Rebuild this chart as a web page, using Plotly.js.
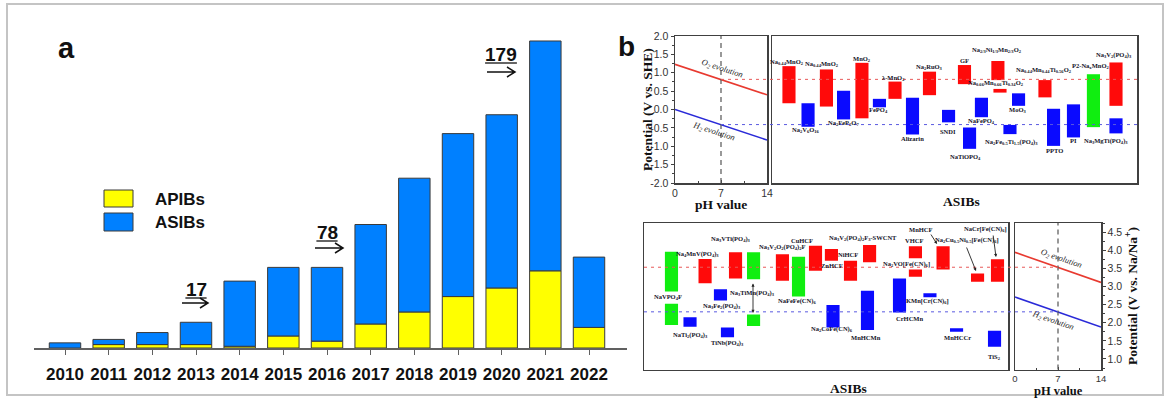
<!DOCTYPE html>
<html><head><meta charset="utf-8">
<script src="https://cdn.plot.ly/plotly-3.0.1.min.js"></script>
<style>html,body{margin:0;padding:0;background:#fff}#chart{width:1168px;height:399px}</style>
</head><body><div id="chart"></div>
<script>
// ---------- DATA ----------
// panel a: publications per year
const years = ['2010','2011','2012','2013','2014','2015','2016','2017','2018','2019','2020','2021','2022'];
const apibs = [0, 2, 2, 2, 1, 7, 4, 14, 21, 30, 35, 45, 12];
const asibs = [3, 3, 7, 13, 38, 40, 43, 58, 78, 95, 101, 134, 41];
const growthNotes = ['17', '78', '179'];

// panel b: water stability window vs pH
const phX = [0, 14];
const o2SHE = [1.23, 0.40];
const h2SHE = [0.00, -0.83];
const o2Na = [3.94, 3.11];
const h2Na = [2.71, 1.88];
const o2AtPh7SHE = 0.82, h2AtPh7SHE = -0.41;
const o2AtPh7Na = 3.53, h2AtPh7Na = 2.30;

// panel b top: electrode potential ranges (V vs. SHE); type c=cathode, a=anode, s=symmetric
const topNames = ['Na<sub>0.44</sub>MnO<sub>2</sub>','Na<sub>2</sub>V<sub>6</sub>O<sub>16</sub>','Na<sub>0.44</sub>MnO<sub>2</sub>','Na<sub>2</sub>FeP<sub>2</sub>O<sub>7</sub>','MnO<sub>2</sub>','FePO<sub>4</sub>','λ-MnO<sub>2</sub>','Alizarin','Na<sub>2</sub>RuO<sub>3</sub>','SNDI','GF','NaTiOPO<sub>4</sub>','NaFePO<sub>4</sub>','Na<sub>2/3</sub>Ni<sub>1/3</sub>Mn<sub>2/3</sub>O<sub>2</sub>','Na<sub>0.66</sub>Mn<sub>0.66</sub>Ti<sub>0.34</sub>O<sub>2</sub>','Na<sub>2</sub>Fe<sub>0.5</sub>Ti<sub>1.5</sub>(PO<sub>4</sub>)<sub>3</sub>','MoO<sub>3</sub>','Na<sub>0.44</sub>Mn<sub>0.44</sub>Ti<sub>0.56</sub>O<sub>2</sub>','PPTO','PI','P2-Na<sub>x</sub>MnO<sub>2</sub>','Na<sub>3</sub>V<sub>2</sub>(PO<sub>4</sub>)<sub>3</sub>','Na<sub>3</sub>MgTi(PO<sub>4</sub>)<sub>3</sub>'];
const topSlot = [0.97,2.06,3.11,4.09,5.14,6.14,7.03,8.03,9.0,10.09,11.0,11.29,11.97,12.91,13.03,13.6,14.09,15.6,16.09,17.23,18.37,19.66,19.66];
const topLo = [0.17,-0.47,0.08,-0.27,-0.24,0.06,0.29,-0.68,0.39,-0.35,0.69,-1.07,-0.21,0.80,0.46,-0.67,0.10,0.33,-0.99,-0.76,-0.48,0.10,-0.65];
const topHi = [1.18,0.17,1.09,0.51,1.27,0.29,0.76,0.32,1.03,-0.01,1.21,-0.49,0.32,1.32,0.56,-0.42,0.44,0.80,0.02,0.14,0.96,1.28,-0.24];
const topType = ['c','a','c','a','c','a','c','a','c','a','c','a','a','c','c','a','a','c','a','a','s','c','a'];

// panel b bottom: electrode potential ranges (V vs. Na/Na+)
const botSlot = [1.57,1.57,2.63,3.49,4.37,4.77,5.23,6.26,6.26,7.91,8.83,9.8,10.71,11.8,10.8,12.89,12.77,15.51,15.51,14.6,16.34,17.09,17.86,19.06,20.2,20.03];
const botLo = [2.86,1.94,1.89,3.09,2.61,1.60,3.22,3.20,1.91,3.16,2.72,3.43,3.71,3.16,1.87,3.67,1.80,3.78,3.27,2.28,2.70,3.47,1.75,3.13,3.13,1.34];
const botHi = [3.96,2.52,2.15,3.76,2.92,1.87,3.94,3.94,2.23,3.89,3.82,4.12,4.03,3.71,2.49,4.14,2.88,4.11,3.47,3.22,2.81,4.11,1.85,3.36,3.75,1.78];
const botType = ['s','s','a','c','a','a','c','s','s','c','s','c','c','c','a','c','a','c','c','a','a','c','a','c','c','a'];

const shePhTicks = [-2,-1.5,-1,-0.5,0,0.5,1,1.5,2];
const naPhTicks = [1,1.5,2,2.5,3,3.5,4,4.5];
const phTicks = [0,7,14];

// ---------- LAYOUT HELPERS ----------
const W = 1168, H = 399;
const px = x => x / W, py = y => 1 - y / H;
const colMap = {c:'#ff0a0a', a:'#0a0aff', s:'#10ee10'};
const SERIF = 'Liberation Serif, Times New Roman, serif';
const SANS = 'Liberation Sans, Arial, sans-serif';
const fmt = v => (v < 0 ? '-' : '') + Math.abs(v).toFixed(1);

const dA = {x:[px(34), px(627)], y:[py(348), py(20)]};
const d2 = {x:[px(675), px(767)], y:[py(183), py(36)]};
const d3 = {x:[px(772), px(1137)], y:[py(183), py(36)]};
const d4 = {x:[px(644), px(1008)], y:[py(369.5), py(223)]};
const d5 = {x:[px(1015), px(1101)], y:[py(369.5), py(223)]};
const naRange = [0.71, 4.75];

const traces = [];
traces.push({type:'bar', x:years, y:apibs, name:'APIBs', width:0.72, xaxis:'x', yaxis:'y',
  marker:{color:'#ffff00', line:{color:'#3a3a3a', width:1}}, hoverinfo:'skip'});
traces.push({type:'bar', x:years, y:asibs, base:apibs, name:'ASIBs', width:0.72, xaxis:'x', yaxis:'y',
  marker:{color:'#0080ff', line:{color:'#3a3a3a', width:1}}, hoverinfo:'skip'});

const lineRed = '#e83a30', lineBlue = '#2a2ad8';
traces.push({type:'scatter', mode:'lines', x:phX, y:o2SHE, xaxis:'x2', yaxis:'y2', line:{color:lineRed, width:1.6}, hoverinfo:'skip'});
traces.push({type:'scatter', mode:'lines', x:phX, y:h2SHE, xaxis:'x2', yaxis:'y2', line:{color:lineBlue, width:1.6}, hoverinfo:'skip'});
traces.push({type:'scatter', mode:'lines', x:phX, y:o2Na, xaxis:'x5', yaxis:'y5', line:{color:lineRed, width:1.6}, hoverinfo:'skip'});
traces.push({type:'scatter', mode:'lines', x:phX, y:h2Na, xaxis:'x5', yaxis:'y5', line:{color:lineBlue, width:1.6}, hoverinfo:'skip'});

traces.push({type:'bar', x:topSlot, y:topHi.map((h,i)=>h-topLo[i]), base:topLo, width:0.75, xaxis:'x3', yaxis:'y3',
  marker:{color:topType.map(t=>colMap[t]), line:{width:0}}, hoverinfo:'skip'});
traces.push({type:'bar', x:botSlot, y:botHi.map((h,i)=>h-botLo[i]), base:botLo, width:0.75, xaxis:'x4', yaxis:'y4',
  marker:{color:botType.map(t=>colMap[t]), line:{width:0}}, hoverinfo:'skip'});

const boxLine = {showline:true, mirror:true, linecolor:'#404040', linewidth:1.5, showgrid:false, zeroline:false};
const tickFont = {family:SANS, size:10.5, color:'#333'};

const layout = {
  width:W, height:H, margin:{l:0,r:0,t:0,b:0}, paper_bgcolor:'#fff', plot_bgcolor:'rgba(0,0,0,0)',
  showlegend:false, barmode:'overlay',
  xaxis:{domain:dA.x, anchor:'y', type:'category', range:[-0.71, 12.87], showline:true, linecolor:'#606060', linewidth:1.5,
    ticks:'outside', ticklen:5, tickcolor:'#606060', ticklabelstandoff:5,
    tickfont:{family:SANS, size:17, color:'#111', weight:'bold'}, showgrid:false, zeroline:false, fixedrange:true},
  yaxis:{domain:dA.y, anchor:'x', range:[0, 191.24], visible:false, fixedrange:true},

  xaxis2:Object.assign({domain:d2.x, anchor:'y2', range:[0,14], tickmode:'array', tickvals:phTicks,
    ticks:'inside', ticklen:3, tickcolor:'#404040', tickfont:tickFont,
    minor:{tickmode:'linear', tick0:0, dtick:3.5, ticks:'inside', ticklen:2, tickcolor:'#404040'}}, boxLine),
  yaxis2:Object.assign({domain:d2.y, anchor:'x2', range:[-2,2], tickmode:'array', tickvals:shePhTicks, ticktext:shePhTicks.map(fmt),
    ticks:'outside', ticklen:3, tickcolor:'#404040', tickfont:tickFont,
    minor:{tickmode:'linear', tick0:0, dtick:0.25, ticks:'outside', ticklen:2, tickcolor:'#404040'}}, boxLine),

  xaxis3:Object.assign({domain:d3.x, anchor:'y3', range:[0, 20.86], showticklabels:false, ticks:''}, boxLine),
  yaxis3:Object.assign({domain:d3.y, anchor:'x3', range:[-2,2], showticklabels:false, ticks:''}, boxLine),

  xaxis4:Object.assign({domain:d4.x, anchor:'y4', range:[0, 20.8], showticklabels:false, ticks:''}, boxLine),
  yaxis4:Object.assign({domain:d4.y, anchor:'x4', range:naRange, showticklabels:false, ticks:''}, boxLine),

  xaxis5:Object.assign({domain:d5.x, anchor:'y5', range:[0,14], tickmode:'array', tickvals:phTicks,
    ticks:'inside', ticklen:3, tickcolor:'#404040', tickfont:{family:SANS, size:9.5, color:'#333'},
    minor:{tickmode:'linear', tick0:0, dtick:3.5, ticks:'inside', ticklen:2, tickcolor:'#404040'}}, boxLine),
  yaxis5:Object.assign({domain:d5.y, anchor:'x5', side:'right', range:naRange, tickmode:'array', tickvals:naPhTicks, ticktext:naPhTicks.map(fmt),
    ticks:'outside', ticklen:3, tickcolor:'#404040', tickfont:tickFont,
    minor:{tickmode:'linear', tick0:0, dtick:0.25, ticks:'outside', ticklen:2, tickcolor:'#404040'}}, boxLine),
  shapes:[], annotations:[]
};

const S = layout.shapes, A = layout.annotations;
// whole-figure frame
S.push({type:'rect', xref:'paper', yref:'paper', x0:px(7), x1:px(1163), y0:py(395), y1:py(4), line:{color:'#c4c4c4', width:2}});

// panel a legend
S.push({type:'rect', xref:'paper', yref:'paper', x0:px(104), x1:px(133), y0:py(207), y1:py(190), fillcolor:'#ffff00', line:{color:'#3a3a3a', width:1}});
S.push({type:'rect', xref:'paper', yref:'paper', x0:px(104), x1:px(133), y0:py(231), y1:py(213), fillcolor:'#0080ff', line:{color:'#3a3a3a', width:1}});
A.push({xref:'paper', yref:'paper', x:px(153), y:py(199), xanchor:'left', yanchor:'middle', showarrow:false, text:'APIBs', font:{family:SANS, size:17, color:'#111', weight:'bold'}});
A.push({xref:'paper', yref:'paper', x:px(153), y:py(222), xanchor:'left', yanchor:'middle', showarrow:false, text:'ASIBs', font:{family:SANS, size:17, color:'#111', weight:'bold'}});
A.push({xref:'paper', yref:'paper', x:px(66), y:py(48), showarrow:false, text:'a', font:{family:SANS, size:29, color:'#111', weight:'bold'}});
A.push({xref:'paper', yref:'paper', x:px(626), y:py(46), showarrow:false, text:'b', font:{family:SANS, size:28, color:'#111', weight:'bold'}});

// growth notes with arrows
const notePos = [{cx:196, ty:289, ax0:182, ax1:208, ay:303}, {cx:327, ty:232, ax0:315, ax1:343, ay:248}, {cx:501, ty:54, ax0:487, ax1:515, ay:72}];
growthNotes.forEach((t,i)=>{
  const p = notePos[i];
  A.push({xref:'paper', yref:'paper', x:px(p.cx), y:py(p.ty), showarrow:false, text:t, font:{family:SANS, size:19, color:'#111', weight:'bold'}});
  const hw = t.length * 5.3;
  S.push({type:'line', xref:'paper', yref:'paper', x0:px(p.cx-hw), x1:px(p.cx+hw), y0:py(p.ty+9), y1:py(p.ty+9), line:{color:'#111', width:1.3}});
  S.push({type:'path', xref:'paper', yref:'paper',
    path:`M ${px(p.ax0)},${py(p.ay)} L ${px(p.ax1)},${py(p.ay)} M ${px(p.ax1-8)},${py(p.ay-5)} L ${px(p.ax1)},${py(p.ay)} L ${px(p.ax1-8)},${py(p.ay+5)}`,
    line:{color:'#111', width:1.5}});
});

// pH 7 verticals
S.push({type:'line', xref:'x2', yref:'y2 domain', x0:7, x1:7, y0:0, y1:1, line:{color:'#555', width:1.2, dash:'5px,4px'}});
S.push({type:'line', xref:'x5', yref:'y5 domain', x0:7, x1:7, y0:0, y1:1, line:{color:'#555', width:1.2, dash:'5px,4px'}});
// reference dashed levels
const ph7top = d2.x[0] + 0.5*(d2.x[1]-d2.x[0]);
const ph7bot = d5.x[0] + 0.5*(d5.x[1]-d5.x[0]);
S.push({type:'line', xref:'paper', yref:'y2', x0:ph7top, x1:d3.x[1], y0:o2AtPh7SHE, y1:o2AtPh7SHE, line:{color:'#e85a5a', width:1, dash:'3px,4px'}});
S.push({type:'line', xref:'paper', yref:'y2', x0:ph7top, x1:d3.x[1], y0:h2AtPh7SHE, y1:h2AtPh7SHE, line:{color:'#5a5ae0', width:1, dash:'3px,4px'}});
S.push({type:'line', xref:'paper', yref:'y4', x0:d4.x[0], x1:ph7bot, y0:o2AtPh7Na, y1:o2AtPh7Na, line:{color:'#e85a5a', width:1, dash:'3px,4px'}});
S.push({type:'line', xref:'paper', yref:'y4', x0:d4.x[0], x1:ph7bot, y0:h2AtPh7Na, y1:h2AtPh7Na, line:{color:'#5a5ae0', width:1, dash:'3px,4px'}});

// axis titles
const titleFont = {family:SERIF, size:13.5, color:'#111', weight:'bold'};
A.push({xref:'paper', yref:'paper', x:px(647), y:py(110), textangle:-90, showarrow:false, text:'Potential (V vs. SHE)', font:titleFont});
A.push({xref:'paper', yref:'paper', x:px(1131), y:py(296), textangle:-90, showarrow:false, text:'Potential (V vs. Na/Na<sup>+</sup>)', font:titleFont});
A.push({xref:'paper', yref:'paper', x:px(721), y:py(204), showarrow:false, text:'pH value', font:titleFont});
A.push({xref:'paper', yref:'paper', x:px(1058), y:py(391), showarrow:false, text:'pH value', font:{family:SERIF, size:12.5, color:'#111', weight:'bold'}});
A.push({xref:'paper', yref:'paper', x:px(961), y:py(201), showarrow:false, text:'ASIBs', font:titleFont});
A.push({xref:'paper', yref:'paper', x:px(848), y:py(388), showarrow:false, text:'ASIBs', font:titleFont});

// evolution labels
const evoFont = {family:SERIF, size:8.5, color:'#222'};
A.push({xref:'paper', yref:'paper', x:px(722), y:py(68), textangle:18, showarrow:false, text:'<i>O<sub>2</sub> evolution</i>', font:evoFont});
A.push({xref:'paper', yref:'paper', x:px(714), y:py(131), textangle:18, showarrow:false, text:'<i>H<sub>2</sub> evolution</i>', font:evoFont});
A.push({xref:'paper', yref:'paper', x:px(1061), y:py(258), textangle:19, showarrow:false, text:'<i>O<sub>2</sub> evolution</i>', font:evoFont});
A.push({xref:'paper', yref:'paper', x:px(1053), y:py(320), textangle:19, showarrow:false, text:'<i>H<sub>2</sub> evolution</i>', font:evoFont});

// material labels
const labFont = {family:SERIF, size:6.5, color:'#141428', weight:'bold'};
const topLabelPos = [[787,62],[806,130],[822,64],[843,123],[862,59],[878,110],[893,78],[912,138],[929,67],[948,131],[964,61],[965,157],[981,121],[997,50],[996,83],[1011,142],[1017,110],[1044,70],[1054,150],[1073,141],[1090,66],[1114,55],[1106,141]];
topNames.forEach((t,i)=>A.push({xref:'paper', yref:'paper', x:px(topLabelPos[i][0]), y:py(topLabelPos[i][1]), showarrow:false, text:t, font:labFont}));

const botLabels = [
  ['NaVPO<sub>4</sub>F',668,297],['NaTi<sub>2</sub>(PO<sub>4</sub>)<sub>3</sub>',691,335],['Na<sub>4</sub>MnV(PO<sub>4</sub>)<sub>3</sub>',697,254],
  ['Na<sub>3</sub>Fe<sub>2</sub>(PO<sub>4</sub>)<sub>3</sub>',722,306],['TiNb(PO<sub>4</sub>)<sub>3</sub>',727,343],['Na<sub>3</sub>VTi(PO<sub>4</sub>)<sub>3</sub>',731,239],
  ['Na<sub>3</sub>TiMn(PO<sub>4</sub>)<sub>3</sub>',752,293],['Na<sub>3</sub>V<sub>2</sub>O<sub>2</sub>(PO<sub>4</sub>)<sub>2</sub>F',782,247],['NaFeFe(CN)<sub>6</sub>',797,301],
  ['CuHCF',802,240],['NiHCF',848,254],['ZnHCF',832,265],['Na<sub>3</sub>V<sub>2</sub>(PO<sub>4</sub>)<sub>2</sub>F<sub>3</sub>-SWCNT',863,238],
  ['Na<sub>2</sub>CoFe(CN)<sub>6</sub>',832,329],['MnHCMn',866,337],['Na<sub>2</sub>VO[Fe(CN)<sub>6</sub>]',906,264],['CrHCMn',909,318],
  ['KMn[Cr(CN)<sub>6</sub>]',927,301],['MnHCF',921,229],['VHCF',914,240],['Na<sub>2</sub>Cu<sub>0.5</sub>Ni<sub>0.5</sub>[Fe(CN)<sub>6</sub>]',967,240],
  ['NaCr[Fe(CN)<sub>6</sub>]',985,229],['MnHCCr',957,337],['TiS<sub>2</sub>',994,357]
];
botLabels.forEach(l=>A.push({xref:'paper', yref:'paper', x:px(l[1]), y:py(l[2]), showarrow:false, text:l[0], font:labFont}));

// explicit anchors for every text annotation (paper refs default to auto anchoring)
A.forEach(a=>{ if(!a.xanchor) a.xanchor='center'; if(!a.yanchor) a.yanchor='middle'; });

// pointer arrows (head x,y ; tail offset in px)
const arrows = [[937,244,-7,-11,'end'],[976,271,-10,-25,'end'],[996,257,-3,-23,'end'],[753,313,0,-31,'end+start']];
arrows.forEach(a=>A.push({xref:'paper', yref:'paper', x:px(a[0]), y:py(a[1]), ax:a[2], ay:a[3], text:'', showarrow:true,
  arrowhead:2, arrowsize:0.7, arrowwidth:0.9, arrowcolor:'#222', arrowside:a[4]}));

Plotly.newPlot('chart', traces, layout, {staticPlot:true, displayModeBar:false});
</script></body></html>
